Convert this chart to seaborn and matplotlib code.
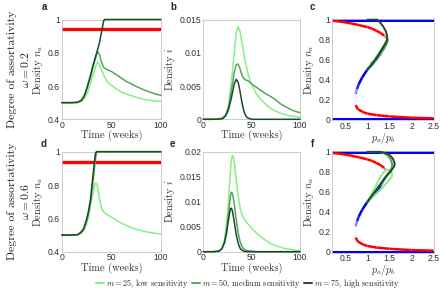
import numpy as np
import pandas as pd
import matplotlib
matplotlib.use("Agg")
import matplotlib.pyplot as plt
import seaborn as sns
from matplotlib.collections import LineCollection
from matplotlib.colors import LinearSegmentedColormap
from matplotlib.ticker import FuncFormatter
from matplotlib.lines import Line2D

# ---- data ------------------------------------------------------------------
m_labels = ["m25", "m50", "m75"]
GREENS = {"m25": "#86f086", "m50": "#58a45e", "m75": "#1e4a28"}
RED_LEVEL = 0.94

# panel a (omega = 0.2), density n_a
t_a = [0, 10, 16, 20, 23, 26, 29, 32, 34, 36, 38, 40, 42, 43, 46, 50, 55, 60, 65, 70, 75, 80, 85, 90, 95, 100]
na_a_m25 = [0.5, 0.5, 0.501, 0.508, 0.525, 0.56, 0.615, 0.675, 0.715, 0.745, 0.73, 0.70, 0.67, 0.655, 0.625, 0.605,
            0.583, 0.564, 0.552, 0.542, 0.532, 0.525, 0.518, 0.513, 0.51, 0.508]
na_a_m50 = [0.5, 0.5, 0.502, 0.514, 0.542, 0.595, 0.655, 0.725, 0.765, 0.808, 0.79, 0.745, 0.715, 0.708, 0.698, 0.688,
            0.668, 0.648, 0.628, 0.613, 0.598, 0.584, 0.572, 0.561, 0.551, 0.544]
na_a_m75 = [0.5, 0.5, 0.502, 0.515, 0.545, 0.6, 0.665, 0.735, 0.775, 0.815, 0.86, 0.92, 0.985, 1.0, 1.0, 1.0,
            1.0, 1.0, 1.0, 1.0, 1.0, 1.0, 1.0, 1.0, 1.0, 1.0]

# panel b (omega = 0.2), density i
t_b = [0, 10, 16, 20, 23, 26, 29, 32, 34, 36, 38, 40, 42, 44, 46, 48, 50, 55, 60, 65, 70, 75, 80, 85, 90, 95, 100]
i_b_m25 = [0, 0, 0.00005, 0.0002, 0.0007, 0.002, 0.0055, 0.0100, 0.0130, 0.0139, 0.0132, 0.0115, 0.0098, 0.0083,
           0.0070, 0.0060, 0.0052, 0.0038, 0.0029, 0.0022, 0.0016, 0.0012, 0.0009, 0.0007, 0.0005, 0.0004, 0.0003]
i_b_m50 = [0, 0, 0.00005, 0.0002, 0.0006, 0.0017, 0.0042, 0.0070, 0.0082, 0.0083, 0.0076, 0.0066, 0.0061, 0.0059,
           0.0058, 0.0056, 0.0053, 0.0048, 0.0043, 0.0038, 0.0034, 0.0029, 0.0023, 0.0019, 0.0015, 0.0012, 0.0010]
i_b_m75 = [0, 0, 0.00003, 0.0001, 0.0005, 0.0014, 0.0032, 0.0053, 0.0060, 0.0056, 0.0042, 0.0025, 0.0012, 0.0005,
           0.0002, 0.0001, 0, 0, 0, 0, 0, 0, 0, 0, 0, 0, 0]

# panel d (omega = 0.6), density n_a
t_d = [0, 10, 16, 19, 22, 25, 27, 29, 31, 33, 34, 35, 36, 37, 38, 40, 42, 45, 50, 55, 60, 65, 70, 75, 80, 85, 90, 95, 100]
na_d_m25 = [0.5, 0.5, 0.501, 0.508, 0.525, 0.565, 0.61, 0.675, 0.74, 0.795, 0.812, 0.81, 0.79, 0.755, 0.715, 0.665,
            0.64, 0.625, 0.607, 0.59, 0.572, 0.558, 0.545, 0.535, 0.527, 0.52, 0.514, 0.51, 0.506]
na_d_m50 = [0.5, 0.5, 0.502, 0.512, 0.53, 0.58, 0.628, 0.695, 0.79, 0.90, 0.955, 0.99, 1.0, 1.0, 1.0, 1.0,
            1.0, 1.0, 1.0, 1.0, 1.0, 1.0, 1.0, 1.0, 1.0, 1.0, 1.0, 1.0, 1.0]
na_d_m75 = [0.5, 0.5, 0.502, 0.515, 0.537, 0.593, 0.645, 0.715, 0.83, 0.94, 0.99, 1.0, 1.0, 1.0, 1.0, 1.0,
            1.0, 1.0, 1.0, 1.0, 1.0, 1.0, 1.0, 1.0, 1.0, 1.0, 1.0, 1.0, 1.0]

# panel e (omega = 0.6), density i
t_e = [0, 10, 16, 19, 22, 24, 26, 28, 29, 30, 31, 32, 34, 36, 38, 40, 42, 45, 50, 55, 60, 65, 70, 75, 80, 85, 90, 95, 100]
i_e_m25 = [0, 0, 0.0001, 0.0006, 0.0025, 0.0055, 0.0100, 0.0160, 0.0183, 0.0193, 0.0190, 0.0178, 0.0145, 0.0112,
           0.0088, 0.0073, 0.0066, 0.0058, 0.0047, 0.0037, 0.0029, 0.0022, 0.0016, 0.0012, 0.0009, 0.0006, 0.0005,
           0.0003, 0.0002]
i_e_m50 = [0, 0, 0.0001, 0.0005, 0.0020, 0.0042, 0.0075, 0.0111, 0.0119, 0.0117, 0.0108, 0.0095, 0.0065, 0.0038,
           0.0020, 0.0010, 0.0005, 0.0002, 0.0001, 0, 0, 0, 0, 0, 0, 0, 0, 0, 0]
i_e_m75 = [0, 0, 0.0001, 0.0005, 0.0018, 0.0037, 0.0063, 0.0086, 0.0087, 0.0082, 0.0072, 0.0060, 0.0035, 0.0017,
           0.0007, 0.0003, 0.0001, 0, 0, 0, 0, 0, 0, 0, 0, 0, 0, 0, 0]

# bifurcation diagram (same in c and f): upper stable, middle unstable, lower stable
up_x = [0.2, 0.4, 0.6, 0.8, 1.0, 1.1, 1.2, 1.3, 1.38, 1.43, 1.45]
up_y = [0.99, 0.98, 0.965, 0.946, 0.925, 0.91, 0.89, 0.865, 0.84, 0.815, 0.79]
mid_x = [1.45, 1.4, 1.3, 1.2, 1.1, 1.0, 0.88, 0.8, 0.76, 0.73, 0.715]
mid_y = [0.79, 0.74, 0.66, 0.6, 0.55, 0.5, 0.42, 0.35, 0.3, 0.25, 0.2]
low_x = [0.715, 0.73, 0.78, 0.9, 1.0, 1.2, 1.5, 2.0, 2.5]
low_y = [0.2, 0.14, 0.10, 0.07, 0.055, 0.04, 0.027, 0.014, 0.008]

# trajectories in the (p_a/p_b, n_a) plane
c_m25_x = [1.0, 1.1, 1.2, 1.3, 1.38, 1.42, 1.38, 1.28, 1.18, 1.08, 1.03]
c_m25_y = [0.5, 0.56, 0.625, 0.69, 0.74, 0.75, 0.71, 0.65, 0.59, 0.545, 0.52]
c_m50_x = [1.0, 1.1, 1.2, 1.3, 1.4, 1.46, 1.44, 1.36, 1.26, 1.16, 1.08]
c_m50_y = [0.5, 0.555, 0.615, 0.685, 0.76, 0.8, 0.76, 0.7, 0.64, 0.59, 0.56]
c_m75_x = [1.0, 1.1, 1.2, 1.3, 1.38, 1.44, 1.45, 1.42, 1.36, 1.29, 1.22, 1.1, 1.0]
c_m75_y = [0.5, 0.55, 0.61, 0.68, 0.74, 0.79, 0.83, 0.88, 0.93, 0.97, 1.0, 1.0, 1.0]

f_m25_x = [1.0, 1.07, 1.13, 1.2, 1.28, 1.36, 1.44, 1.5, 1.55, 1.56, 1.5, 1.42, 1.32, 1.2, 1.1, 1.04]
f_m25_y = [0.5, 0.56, 0.61, 0.67, 0.74, 0.795, 0.822, 0.815, 0.79, 0.76, 0.72, 0.68, 0.63, 0.58, 0.54, 0.515]
f_m50_x = [1.0, 1.1, 1.25, 1.38, 1.48, 1.55, 1.56, 1.52, 1.44, 1.35, 1.25, 1.0]
f_m50_y = [0.5, 0.56, 0.65, 0.73, 0.79, 0.84, 0.88, 0.93, 0.97, 0.99, 1.0, 1.0]
f_m75_x = [1.0, 1.1, 1.25, 1.4, 1.52, 1.6, 1.62, 1.58, 1.5, 1.4, 1.3, 1.15, 1.0]
f_m75_y = [0.5, 0.56, 0.65, 0.74, 0.8, 0.85, 0.88, 0.93, 0.97, 0.99, 1.0, 1.0, 1.0]

legend_labels = [r"$m = 25$, low sensitivity", r"$m = 50$, medium sensitivity", r"$m = 75$, high sensitivity"]

# ---- style -------------------------------------------------------------------
sns.set_theme(style="white")
plt.rcParams["font.family"] = ["Liberation Sans", "DejaVu Sans"]
plt.rcParams["mathtext.fontset"] = "cm"
SERIF = "cmr10"
TICK_FS = 6.2
LAB_FS = 7.5


def long_df(x, ys):
    rows = []
    for lab, y in zip(m_labels, ys):
        for i, (xx, yy) in enumerate(zip(x, y)):
            rows.append({"x": xx, "y": yy, "m": lab, "i": i})
    return pd.DataFrame(rows)


def traj_df(xs, ys):
    rows = []
    for lab, x, y in zip(m_labels, xs, ys):
        for i, (xx, yy) in enumerate(zip(x, y)):
            rows.append({"x": xx, "y": yy, "m": lab, "i": i})
    return pd.DataFrame(rows)


def style_ax(ax):
    for s in ax.spines.values():
        s.set_visible(True)
        s.set_color("#c4c4c4")
        s.set_linewidth(0.6)
    ax.tick_params(labelsize=TICK_FS, colors="#c4c4c4", labelcolor="#303030", length=2,
                   width=0.5, direction="in", pad=1.2)
    ax.xaxis.set_major_formatter(FuncFormatter(lambda v, p: f"{v:g}"))
    ax.yaxis.set_major_formatter(FuncFormatter(lambda v, p: f"{v:g}"))
    ax.set_facecolor("white")


def time_panel(ax, t, ys, ylim, yticks, ylabel, red=False):
    if red:
        ax.axhline(RED_LEVEL, color="#ff0000", lw=2.4, zorder=1)
    sns.lineplot(data=long_df(t, ys), x="x", y="y", hue="m", hue_order=m_labels, palette=GREENS,
                 estimator=None, sort=False, units="m", legend=False, lw=1.1, ax=ax, zorder=3,
                 clip_on=False)
    ax.set_xlim(0, 100)
    ax.set_ylim(*ylim)
    ax.set_xticks([0, 50, 100])
    ax.set_yticks(yticks)
    ax.set_xlabel("Time (weeks)", family=SERIF, fontsize=LAB_FS, color="#333333", labelpad=0)
    ax.set_ylabel(ylabel, family=SERIF, fontsize=LAB_FS, color="#333333", labelpad=2)
    style_ax(ax)


rwb = LinearSegmentedColormap.from_list("rwb", ["#ff0000", "#fff4f4", "#0000ff"])


def grad_line(ax, x, y, s0, s1, s_mid=None, lw=1.8):
    x = np.asarray(x, float)
    y = np.asarray(y, float)
    pts = np.column_stack([x, y]).reshape(-1, 1, 2)
    segs = np.concatenate([pts[:-1], pts[1:]], axis=1)
    n = len(segs)
    if s_mid is None:
        s = np.linspace(s0, s1, n)
    else:
        k = np.linspace(0, 1, n)
        s = np.where(k < 0.5, s0 + (s_mid - s0) * np.clip(k / 0.25, 0, 1),
                     s_mid + (s1 - s_mid) * np.clip((k - 0.75) / 0.25, 0, 1))
    lc = LineCollection(segs, colors=rwb(s), linewidths=lw, capstyle="butt", joinstyle="round", zorder=2)
    ax.add_collection(lc)


def bif_panel(ax, xs, ys):
    ax.axhline(1, color="#0000ff", lw=2.2, zorder=1)
    ax.axhline(0, color="#0000ff", lw=2.2, zorder=1)
    # upper stable branch: red, fading near the fold
    grad_line(ax, up_x[:-3], up_y[:-3], 0.0, 0.0)
    grad_line(ax, up_x[-4:], up_y[-4:], 0.0, 0.5)
    # middle unstable branch
    grad_line(ax, mid_x, mid_y, 0.55, 0.5, s_mid=1.0)
    # lower stable branch
    grad_line(ax, low_x[:3], low_y[:3], 0.5, 0.0)
    grad_line(ax, low_x[2:], low_y[2:], 0.0, 0.0)
    sns.lineplot(data=traj_df(xs, ys), x="x", y="y", hue="m", hue_order=m_labels, palette=GREENS,
                 estimator=None, sort=False, units="m", legend=False, lw=1.4, ax=ax, zorder=4,
                 clip_on=False)
    ax.set_xlim(0.2, 2.5)
    ax.set_ylim(-0.012, 1.012)
    ax.set_xticks([0.5, 1, 1.5, 2, 2.5])
    ax.set_yticks([0, 0.2, 0.4, 0.6, 0.8, 1])
    ax.set_xlabel(r"$p_a/p_b$", fontsize=7.2, color="#333333", labelpad=-0.9)
    ax.set_ylabel(r"Density $n_a$", family=SERIF, fontsize=LAB_FS, color="#333333", labelpad=2)
    style_ax(ax)


fig = plt.figure(figsize=(4.4, 2.88), dpi=100)
W, H = 440, 288


def add_ax(x0, x1, y0, y1):
    return fig.add_axes([x0 / W, 1 - y1 / H, (x1 - x0) / W, (y1 - y0) / H])


ax_a = add_ax(61.7, 161, 19.5, 119.3)
ax_b = add_ax(203.3, 300, 19.5, 119.3)
ax_c = add_ax(332.3, 433.5, 18.5, 120.3)
ax_d = add_ax(61.7, 161, 151.7, 251.7)
ax_e = add_ax(203.3, 300, 151.7, 251.7)
ax_f = add_ax(332.3, 433.5, 150.7, 252.7)

time_panel(ax_a, t_a, [na_a_m25, na_a_m50, na_a_m75], (0.4, 1.0), [0.4, 0.6, 0.8, 1],
           r"Density $n_a$", red=True)
time_panel(ax_b, t_b, [i_b_m25, i_b_m50, i_b_m75], (0, 0.015), [0, 0.005, 0.01, 0.015],
           r"Density $i$")
bif_panel(ax_c, [c_m25_x, c_m50_x, c_m75_x], [c_m25_y, c_m50_y, c_m75_y])
time_panel(ax_d, t_d, [na_d_m25, na_d_m50, na_d_m75], (0.4, 1.0), [0.4, 0.6, 0.8, 1],
           r"Density $n_a$", red=True)
time_panel(ax_e, t_e, [i_e_m25, i_e_m50, i_e_m75], (0, 0.02), [0, 0.005, 0.01, 0.015, 0.02],
           r"Density $i$")
bif_panel(ax_f, [f_m25_x, f_m50_x, f_m75_x], [f_m25_y, f_m50_y, f_m75_y])

for lab, (px, py) in zip("abcdef", [(44, 7), (173, 7), (312, 7), (44, 144), (172, 144), (312, 144)]):
    fig.text(px / W, 1 - py / H, lab, fontsize=7, fontweight="bold", ha="center", va="center")

for yc, om in [(69.4, r"$\omega = 0.2$"), (201.7, r"$\omega = 0.6$")]:
    fig.text(12 / W, 1 - yc / H, "Degree of assortativity", family=SERIF, fontsize=8.5,
             rotation=90, ha="center", va="center", color="#222222")
    fig.text(26 / W, 1 - yc / H, om, fontsize=8.5, rotation=90, ha="center", va="center",
             color="#222222")

handles = [Line2D([0], [0], color=GREENS[k], lw=1.4) for k in m_labels]
fig.legend(handles, legend_labels, loc="center", bbox_to_anchor=(248 / W, 1 - 283.0 / H), ncol=3,
           frameon=False, handlelength=1.0, handletextpad=0.25, columnspacing=0.3,
           borderpad=0.0, prop={"family": SERIF, "size": 5.9})

fig.savefig("out.png", dpi=100, facecolor="white")
